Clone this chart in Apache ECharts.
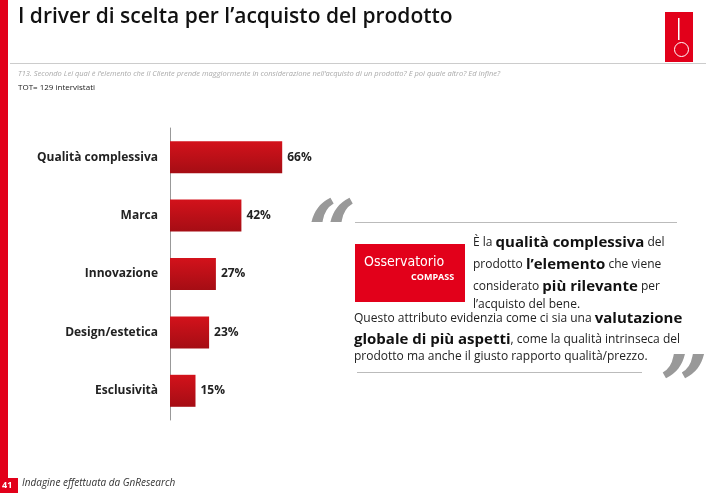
<!DOCTYPE html>
<html><head><meta charset="utf-8">
<script src="https://cdn.jsdelivr.net/npm/echarts@6/dist/echarts.min.js"></script>
<style>html,body{margin:0;padding:0;background:#fff}#c{width:706px;height:493px}</style>
</head><body><div id="c"></div>
<script>
const categories = ['Qualità complessiva','Marca','Innovazione','Design/estetica','Esclusività'];
const values = [66,42,27,23,15];
const F = 'Open Sans, Liberation Sans, sans-serif';
const chart = echarts.init(document.getElementById('c'));
const q = {fontFamily:F,fontSize:12,fill:'#222',rich:{b:{fontFamily:F,fontSize:15,fontWeight:'bold',fill:'#111'},n:{fontFamily:F,fontSize:12,fill:'#222'}}};
function line(x,y,text){return {type:'text',left:x,top:y,style:Object.assign({text:text},q)};}
chart.setOption({
  animation:false,
  grid:{left:170,top:128,width:170,bottom:73},
  xAxis:{type:'value',min:0,max:100,show:false},
  yAxis:{type:'category',inverse:true,data:categories,
    axisLine:{show:true,lineStyle:{color:'#999'}},axisTick:{show:false},
    axisLabel:{margin:12,fontFamily:F,fontSize:12,fontWeight:'bold',color:'#222'}},
  series:[{type:'bar',data:values,barWidth:32,
    itemStyle:{color:{type:'linear',x:0,y:0,x2:0,y2:1,colorStops:[{offset:0,color:'#d3121b'},{offset:1,color:'#a50d14'}]}},
    label:{show:true,position:'right',formatter:'{c}%',fontFamily:F,fontSize:12,fontWeight:'bold',color:'#222'}}],
  graphic:[
    {type:'rect',left:0,top:0,shape:{width:8,height:493},style:{fill:'#e2001a'}},
    {type:'rect',left:0,top:478,shape:{width:18,height:15},style:{fill:'#e2001a'}},
    {type:'text',left:2,top:481,style:{text:'41',fill:'#fff',fontFamily:F,fontSize:9,fontWeight:'bold'}},
    {type:'text',left:22,top:478,style:{text:'Indagine effettuata da GnResearch',fill:'#333',fontFamily:F,fontSize:10,fontStyle:'italic'}},
    {type:'text',left:18,top:7,style:{text:'I driver di scelta per l\u2019acquisto del prodotto',fill:'#111',fontFamily:F,fontSize:21,fontWeight:600}},
    {type:'rect',left:10,top:63,shape:{width:696,height:1},style:{fill:'#ccc'}},
    {type:'rect',left:665,top:12,shape:{width:28,height:50},style:{fill:'#e2001a'}},
    {type:'circle',left:672,top:40,shape:{r:7},style:{fill:'none',stroke:'#fff',lineWidth:1}},
    {type:'rect',left:678,top:18,shape:{width:1.5,height:22},style:{fill:'#fff'}},
    {type:'text',left:18,top:70,style:{text:'T13. Secondo Lei qual è l\u2019elemento che il Cliente prende maggiormente in considerazione nell\u2019acquisto di un prodotto? E poi quale altro? Ed infine?',fill:'#aaa',fontFamily:F,fontSize:7.5,fontStyle:'italic'}},
    {type:'text',left:18,top:84,style:{text:'TOT= 129 intervistati',fill:'#222',fontFamily:F,fontSize:8}},
    {type:'text',left:308,top:196,style:{text:'\u201C',fill:'#999',fontFamily:'DejaVu Serif',fontSize:84,fontStyle:'italic',fontWeight:'bold'}},
    {type:'text',left:660,top:352,style:{text:'\u201D',fill:'#999',fontFamily:'DejaVu Serif',fontSize:84,fontStyle:'italic',fontWeight:'bold'}},
    {type:'rect',left:355,top:222,shape:{width:322,height:1},style:{fill:'#bbb'}},
    {type:'rect',left:357,top:372,shape:{width:285,height:1},style:{fill:'#bbb'}},
    {type:'rect',left:355,top:244,shape:{width:110,height:58},style:{fill:'#e2001a'}},
    {type:'text',left:364,top:255,style:{text:'Osservatorio',fill:'#fff',fontFamily:'DejaVu Sans Condensed, DejaVu Sans',fontSize:14,fontWeight:'lighter'}},
    {type:'text',left:411,top:273,style:{text:'COMPASS',fill:'#fff',fontFamily:F,fontSize:9,fontWeight:'bold'}},
    line(473,235,'{n|È la }{b|qualità complessiva}{n| del}'),
    line(473,257,'{n|prodotto }{b|l\u2019elemento}{n| che viene}'),
    line(473,279,'{n|considerato }{b|più rilevante}{n| per}'),
    line(473,299,'{n|l\u2019acquisto del bene.}'),
    line(354,311,'{n|Questo attributo evidenzia come ci sia una }{b|valutazione}'),
    line(354,332,'{b|globale di più aspetti}{n|, come la qualità intrinseca del}'),
    line(354,351,'{n|prodotto ma anche il giusto rapporto qualità/prezzo.}')
  ]
});
</script></body></html>
